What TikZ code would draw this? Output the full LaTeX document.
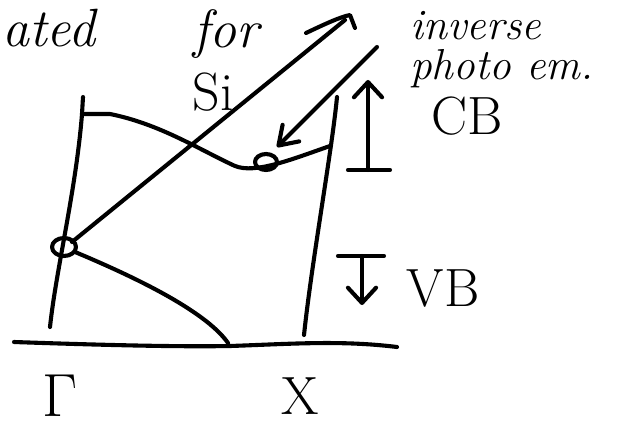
\documentclass[tikz,border=0pt]{standalone}
\usepackage{fontspec}
\usetikzlibrary{arrows.meta}

\begin{document}
\begin{tikzpicture}[x=0.03cm,y=-0.03cm]
    % styles
    \tikzset{
      stroke/.style     = {line width=3.5pt, draw=black, line cap=round, line join=round},
      flowarrow/.style  = {stroke, -{Straight Barb[length=15pt,width=20pt,round]}},
      levelarrow/.style = {stroke, -{Straight Barb[length=13pt,width=24pt,round]}},
      hand/.style       = {font=\fontsize{37}{32}\selectfont\itshape, inner sep=0pt},
      bighand/.style    = {font=\fontsize{46}{46}\selectfont\itshape, inner sep=0pt},
      symb/.style       = {font=\fontsize{46}{46}\selectfont, inner sep=0pt}
    }
    \useasboundingbox (0,0) rectangle (617,429);

    % k-points and band extrema:
    \coordinate (G)      at (64,247);
    \coordinate (Gout)   at (72,242);
    \coordinate (Gdown)  at (75,252);
    \coordinate (cbmin)  at (266,162);
    \coordinate (emit)   at (345,20);
    \coordinate (inv)    at (377,47);
    \coordinate (hit)    at (277,147);

    % axis and zone edges:
    \draw[stroke] (14,342) .. controls (100,345) and (180,347) .. (230,346)
      .. controls (290,344) and (340,340) .. (397,347);
    \draw[stroke] (83,97) -- (82,114) .. controls (76,190) and (56,270) .. (50,327);
    \draw[stroke] (337,97) .. controls (332,150) and (312,260) .. (304,335);

    % conduction band:
    \draw[stroke] (82,114) -- (110,114)
      .. controls (160,124) and (200,150) .. (235,166)
      .. controls (255,174) and (290,160) .. (330,146);

    % valence band:
    \draw[stroke] (Gdown) .. controls (130,275) and (205,310) .. (228,343);

    % extrema:
    \draw[stroke] (G) ellipse [x radius=12, y radius=9];
    \draw[stroke] (cbmin) ellipse [x radius=11, y radius=8];

    % photo emission and inverse:
    \draw[stroke] (Gout) -- (emit);
    \draw[stroke] (306,33) .. controls (325,24) and (340,17) .. (350,15) -- (355,28);
    \draw[flowarrow] (inv) -- (hit);

    % CB and VB markers:
    \draw[levelarrow] (368,170) -- (368,80);
    \draw[stroke] (348,170) -- (390,170);
    \draw[stroke] (338,256) -- (384,256);
    \draw[levelarrow] (362,256) -- (362,305);

    % labels:
    \node[bighand, anchor=west] (ated) at (2,28) {ated};
    \node[bighand] (for) at (226,34) {for};
    \node[symb] (si) at (213,92) {Si};
    \node[hand, anchor=base west] (ipe1) at (410,40) {inverse};
    \node[hand, anchor=base west] (ipe2) at (410,80) {photo em.};
    \node[symb] (cb) at (467,116) {CB};
    \node[symb] (vb) at (443,289) {VB};
    \node[symb, font=\fontsize{52}{52}\selectfont] (gam) at (60,396) {Γ};
    \node[symb] (xpt) at (300,396) {X};

  \end{tikzpicture}
\end{document}
